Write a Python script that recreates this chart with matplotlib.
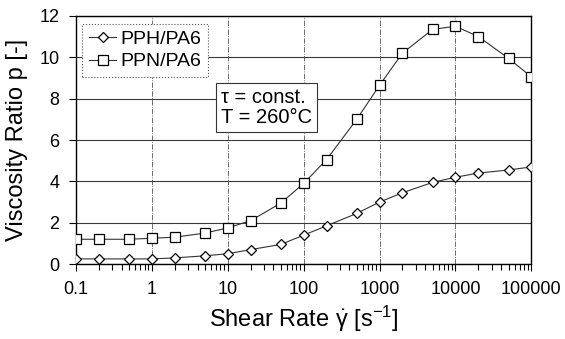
import numpy as np
import matplotlib.pyplot as plt
from matplotlib.ticker import FixedLocator, FuncFormatter, LogLocator, NullFormatter

plt.rcParams['font.family'] = ['Liberation Sans', 'DejaVu Sans']
plt.rcParams['mathtext.fontset'] = 'custom'
plt.rcParams['mathtext.rm'] = 'Liberation Sans'
plt.rcParams['mathtext.it'] = 'Liberation Sans'

# 전단 속도
shear_rate = [0.1, 0.2, 0.5, 1, 2, 5, 10, 20, 50, 100, 200, 500,
              1000, 2000, 5000, 10000, 20000, 50000, 100000]
# 점도비
pph_pa6 = [0.25, 0.25, 0.25, 0.25, 0.3, 0.4, 0.5, 0.7, 0.95, 1.4, 1.85, 2.45,
           3.0, 3.45, 3.95, 4.2, 4.4, 4.55, 4.7]
ppn_pa6 = [1.2, 1.2, 1.2, 1.25, 1.3, 1.5, 1.75, 2.1, 2.95, 3.9, 5.05, 7.0,
           8.65, 10.2, 11.35, 11.5, 11.0, 9.95, 9.05]
x_ticks = [0.1, 1, 10, 100, 1000, 10000, 100000]
y_ticks = [0, 2, 4, 6, 8, 10, 12]

fig = plt.figure(figsize=(5.65, 3.39), dpi=100)
ax = fig.add_axes([0.1345, 0.221, 0.806, 0.732])

ax.plot(shear_rate, pph_pa6, '-', color='#333333', lw=0.8, marker='D', ms=5,
        mfc='white', mec='black', mew=0.9, label='PPH/PA6', zorder=3)
ax.plot(shear_rate, ppn_pa6, '-', color='#333333', lw=0.8, marker='s', ms=7,
        mfc='white', mec='black', mew=0.9, label='PPN/PA6', zorder=3)

ax.set_xscale('log')
ax.set_xlim(0.1, 100000)
ax.set_ylim(0, 12)
ax.xaxis.set_major_locator(FixedLocator(x_ticks))
ax.xaxis.set_major_formatter(FuncFormatter(lambda v, p: ('%g' % v) if v < 1 else '%d' % v))
ax.xaxis.set_minor_locator(LogLocator(base=10, subs=np.arange(2, 10)))
ax.xaxis.set_minor_formatter(NullFormatter())
ax.set_yticks(y_ticks)

ax.tick_params(axis='both', which='major', labelsize=13, direction='out', length=5, width=0.8, pad=7)
ax.tick_params(axis='x', which='minor', direction='out', length=4, width=0.8)
ax.grid(True, axis='y', color='#3a3a3a', lw=0.8)
ax.grid(True, axis='x', which='major', color='#555555', lw=0.6, ls='-.')
for s in ax.spines.values():
    s.set_linewidth(1.0)

ax.set_xlabel('Shear Rate $\\dot{\\gamma}$ [s$^{\\mathregular{-1}}$]', fontsize=17, labelpad=4)
ax.set_ylabel('Viscosity Ratio p [-]', fontsize=17, labelpad=8)

leg = ax.legend(loc='upper left', fontsize=14, fancybox=False, handlelength=1.4,
                handletextpad=0.2, borderpad=0.35, labelspacing=0.25,
                bbox_to_anchor=(0.005, 0.985), framealpha=1, borderaxespad=0.2)
leg.get_frame().set_edgecolor('#555555')
leg.get_frame().set_linewidth(0.8)
leg.get_frame().set_linestyle(':')

ax.text(0.318, 0.71, '\u03c4 = const.\nT = 260\u00b0C', transform=ax.transAxes, fontsize=14.5,
        va='top', ha='left', linespacing=1.1,
        bbox=dict(boxstyle='square,pad=0.25', fc='white', ec='#333333', lw=0.8))

fig.savefig('out.png', dpi=100)
